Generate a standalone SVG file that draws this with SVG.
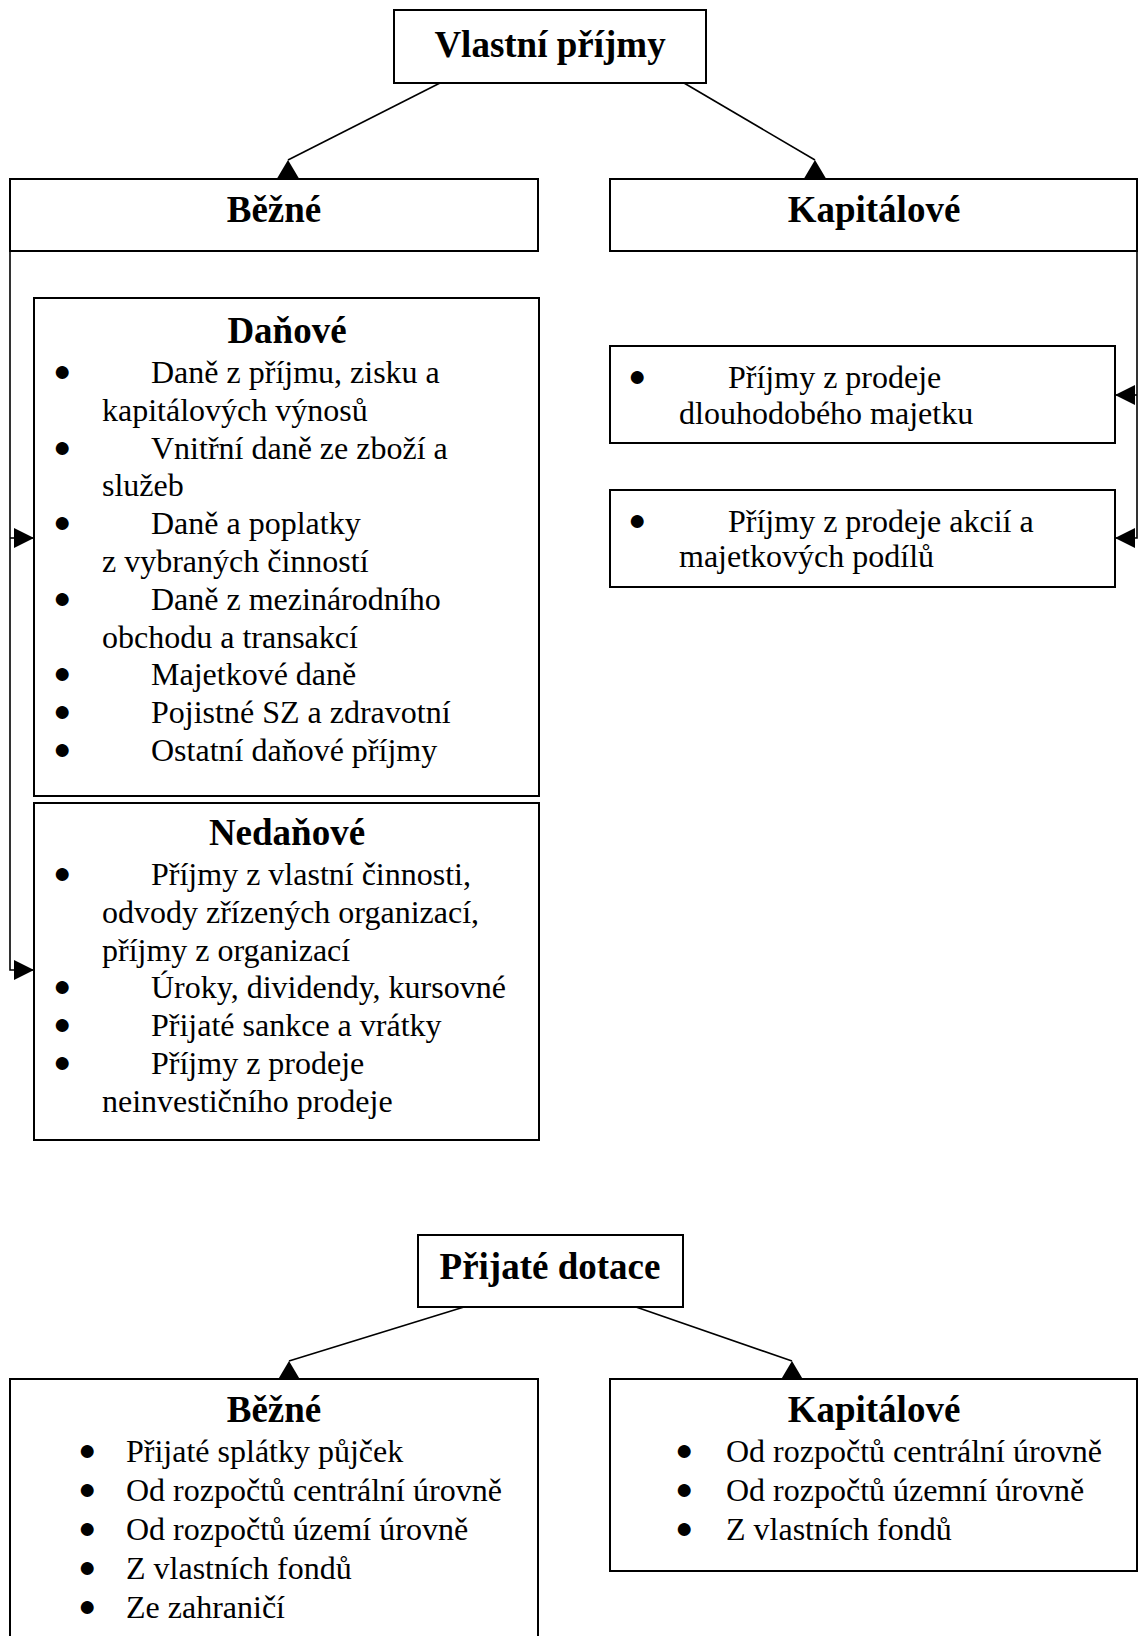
<svg xmlns="http://www.w3.org/2000/svg" width="1138" height="1636" viewBox="0 0 1138 1636">
<defs>
<style>
.box{fill:#fff;stroke:#000;stroke-width:2}
.con{fill:none;stroke:#000;stroke-width:1.6}
.h{font-family:"Liberation Serif","Times New Roman",serif;font-weight:bold;font-size:37px;text-anchor:middle;fill:#000}
.t{font-family:"Liberation Serif","Times New Roman",serif;font-size:32px;fill:#000}
.b{font-family:"Liberation Serif","Times New Roman",serif;font-size:30px;fill:#000;text-anchor:middle}
</style>
<marker id="ah" markerUnits="userSpaceOnUse" markerWidth="20" markerHeight="20" refX="20" refY="10" orient="auto" viewBox="0 0 20 20">
<path d="M0,0 L20,10 L0,20 Z" fill="#000"/>
</marker>
<marker id="up" markerUnits="userSpaceOnUse" markerWidth="22" markerHeight="19" refX="11" refY="0" orient="0" viewBox="0 0 22 19">
<path d="M11,0 L22,18.5 L0,18.5 Z" fill="#000"/>
</marker>
</defs>
<rect width="1138" height="1636" fill="#fff"/>

<g id="connectors">
<path class="con" d="M440,83 L288,160" marker-end="url(#up)"/>
<path class="con" d="M684,83 L815,160" marker-end="url(#up)"/>
<path class="con" d="M10,251 V970 H34" marker-end="url(#ah)"/>
<path class="con" d="M10,538 H34" marker-end="url(#ah)"/>
<path class="con" d="M1137,251 V538 H1115" marker-end="url(#ah)"/>
<path class="con" d="M1137,395 H1115" marker-end="url(#ah)"/>
<path class="con" d="M464,1307 L289,1361" marker-end="url(#up)"/>
<path class="con" d="M636,1307 L792,1361" marker-end="url(#up)"/>
</g>

<g id="vlastni-prijmy">
<rect class="box" x="394" y="10" width="312" height="73"/>
<text class="h" x="550" y="57">Vlastní příjmy</text>
</g>

<g id="bezne-top">
<rect class="box" x="10" y="179" width="528" height="72"/>
<text class="h" x="274" y="222">Běžné</text>
</g>

<g id="kapitalove-top">
<rect class="box" x="610" y="179" width="527" height="72"/>
<text class="h" x="874" y="222">Kapitálové</text>
</g>

<g id="danove">
<rect class="box" x="34" y="298" width="505" height="498"/>
<text class="h" x="287" y="343">Daňové</text>
<text class="b" x="62" y="381">●</text>
<text class="t" x="151" y="383">Daně z příjmu, zisku a</text>
<text class="t" x="102" y="421">kapitálových výnosů</text>
<text class="b" x="62" y="457">●</text>
<text class="t" x="151" y="459">Vnitřní daně ze zboží a</text>
<text class="t" x="102" y="496">služeb</text>
<text class="b" x="62" y="532">●</text>
<text class="t" x="151" y="534">Daně a poplatky</text>
<text class="t" x="102" y="572">z vybraných činností</text>
<text class="b" x="62" y="608">●</text>
<text class="t" x="151" y="610">Daně z mezinárodního</text>
<text class="t" x="102" y="648">obchodu a transakcí</text>
<text class="b" x="62" y="683">●</text>
<text class="t" x="151" y="685">Majetkové daně</text>
<text class="b" x="62" y="721">●</text>
<text class="t" x="151" y="723">Pojistné SZ a zdravotní</text>
<text class="b" x="62" y="759">●</text>
<text class="t" x="151" y="761">Ostatní daňové příjmy</text>
</g>

<g id="nedanove">
<rect class="box" x="34" y="803" width="505" height="337"/>
<text class="h" x="287" y="845">Nedaňové</text>
<text class="b" x="62" y="883">●</text>
<text class="t" x="151" y="885">Příjmy z vlastní činnosti,</text>
<text class="t" x="102" y="923">odvody zřízených organizací,</text>
<text class="t" x="102" y="961">příjmy z organizací</text>
<text class="b" x="62" y="996">●</text>
<text class="t" x="151" y="998">Úroky, dividendy, kursovné</text>
<text class="b" x="62" y="1034">●</text>
<text class="t" x="151" y="1036">Přijaté sankce a vrátky</text>
<text class="b" x="62" y="1072">●</text>
<text class="t" x="151" y="1074">Příjmy z prodeje</text>
<text class="t" x="102" y="1112">neinvestičního prodeje</text>
</g>

<g id="kap-dlouhodoby">
<rect class="box" x="610" y="346" width="505" height="97"/>
<text class="b" x="637" y="386">●</text>
<text class="t" x="728" y="388">Příjmy z prodeje</text>
<text class="t" x="679" y="424">dlouhodobého majetku</text>
</g>

<g id="kap-akcie">
<rect class="box" x="610" y="490" width="505" height="97"/>
<text class="b" x="637" y="530">●</text>
<text class="t" x="728" y="532">Příjmy z prodeje akcií a</text>
<text class="t" x="679" y="567">majetkových podílů</text>
</g>

<g id="prijate-dotace">
<rect class="box" x="418" y="1235" width="265" height="72"/>
<text class="h" x="550" y="1279">Přijaté dotace</text>
</g>

<g id="bezne-bottom">
<rect class="box" x="10" y="1379" width="528" height="280"/>
<text class="h" x="274" y="1422">Běžné</text>
<text class="b" x="87" y="1460">●</text>
<text class="t" x="126" y="1462">Přijaté splátky půjček</text>
<text class="b" x="87" y="1499">●</text>
<text class="t" x="126" y="1501">Od rozpočtů centrální úrovně</text>
<text class="b" x="87" y="1538">●</text>
<text class="t" x="126" y="1540">Od rozpočtů území úrovně</text>
<text class="b" x="87" y="1577">●</text>
<text class="t" x="126" y="1579">Z vlastních fondů</text>
<text class="b" x="87" y="1616">●</text>
<text class="t" x="126" y="1618">Ze zahraničí</text>
</g>

<g id="kapitalove-bottom">
<rect class="box" x="610" y="1379" width="527" height="192"/>
<text class="h" x="874" y="1422">Kapitálové</text>
<text class="b" x="684" y="1460">●</text>
<text class="t" x="726" y="1462">Od rozpočtů centrální úrovně</text>
<text class="b" x="684" y="1499">●</text>
<text class="t" x="726" y="1501">Od rozpočtů územní úrovně</text>
<text class="b" x="684" y="1538">●</text>
<text class="t" x="726" y="1540">Z vlastních fondů</text>
</g>
</svg>
